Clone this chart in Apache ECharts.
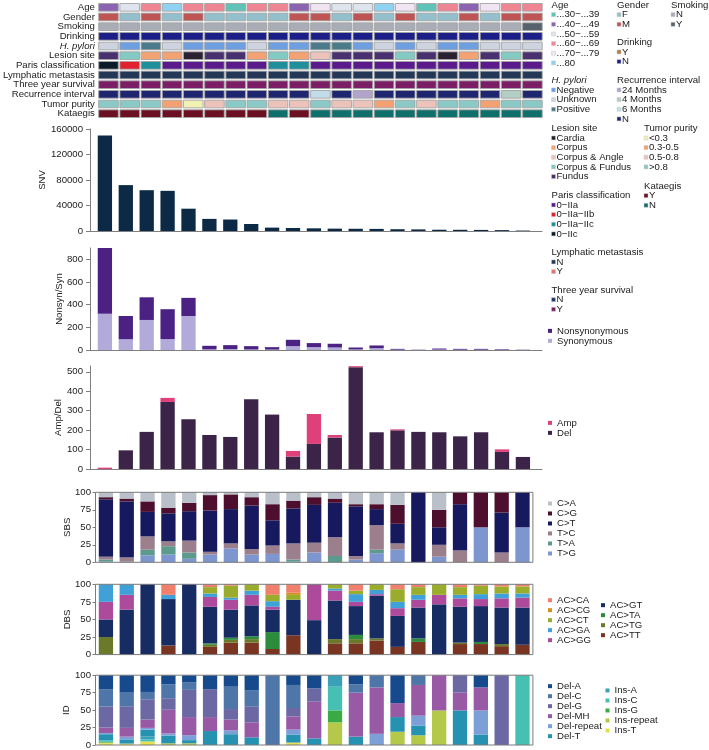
<!DOCTYPE html>
<html><head><meta charset="utf-8">
<script src="https://cdn.jsdelivr.net/npm/echarts@6.0.0/dist/echarts.min.js"></script>
<style>html,body{margin:0;padding:0;background:#fff}#c{width:709px;height:750px}</style>
</head><body><div id="c"></div>
<script>
// ---------------- DATA ----------------
const samples = ['P1','P2','P3','P4','P5','P6','P7','P8','P9','P10','P11','P12','P13','P14','P15','P16','P17','P18','P19','P20','P21'];

// clinical annotation rows
const ageLevels = ['...30\u2212...39','...40\u2212...49','...50\u2212...59','...60\u2212...69','...70\u2212...79','...80'];
const ageColors = ['#5fc4b7','#8b63b1','#dfe5ef','#ef8593','#f1e4f3','#8fd2f1'];
const ageData = ['...40\u2212...49','...50\u2212...59','...60\u2212...69','...80','...60\u2212...69','...60\u2212...69','...30\u2212...39','...60\u2212...69','...60\u2212...69','...40\u2212...49','...70\u2212...79','...50\u2212...59','...50\u2212...59','...80','...70\u2212...79','...30\u2212...39','...60\u2212...69','...40\u2212...49','...70\u2212...79','...60\u2212...69','...60\u2212...69'];

const genderLevels = ['F','M'];
const genderColors = ['#93c0cc','#be5454'];
const genderData = ['M','F','M','F','M','F','F','F','F','M','M','F','M','F','M','F','F','M','F','M','M'];

const smokingLevels = ['N','Y'];
const smokingColors = ['#a9adb5','#57626e'];
const smokingData = ['N','N','N','N','N','N','N','N','N','N','N','N','N','N','N','N','N','N','N','N','Y'];

const drinkingLevels = ['Y','N'];
const drinkingColors = ['#b07d3e','#1c1f87'];
const drinkingData = ['N','N','N','N','N','N','N','N','N','N','N','N','N','N','N','N','N','N','N','N','N'];

const hpLevels = ['Negative','Unknown','Positive'];
const hpColors = ['#6d9fe1','#cdd4df','#4b7b8b'];
const hpData = ['Unknown','Negative','Positive','Unknown','Negative','Negative','Negative','Unknown','Negative','Negative','Positive','Positive','Negative','Unknown','Negative','Unknown','Negative','Negative','Unknown','Unknown','Unknown'];

const lesionLevels = ['Cardia','Corpus','Corpus & Angle','Corpus & Fundus','Fundus'];
const lesionColors = ['#2b2231','#f3a274','#ecc3bb','#82cac2','#49306f'];
const lesionData = ['Fundus','Corpus & Fundus','Corpus','Corpus','Cardia','Fundus','Fundus','Corpus','Corpus & Fundus','Corpus','Corpus & Angle','Fundus','Fundus','Fundus','Corpus & Fundus','Fundus','Cardia','Corpus','Fundus','Corpus & Fundus','Fundus'];

const parisLevels = ['0\u2212IIa','0\u2212IIa\u2212IIb','0\u2212IIa\u2212IIc','0\u2212IIc'];
const parisColors = ['#5b1a8c','#e2202f','#1f8f9c','#0b1c28'];
const parisData = ['0\u2212IIc','0\u2212IIa\u2212IIb','0\u2212IIa\u2212IIc','0\u2212IIa','0\u2212IIa','0\u2212IIa','0\u2212IIa','0\u2212IIa','0\u2212IIa\u2212IIc','0\u2212IIa\u2212IIc','0\u2212IIa','0\u2212IIa','0\u2212IIa','0\u2212IIa','0\u2212IIa','0\u2212IIa','0\u2212IIa','0\u2212IIa','0\u2212IIa','0\u2212IIa','0\u2212IIa'];

const lymphLevels = ['N','Y'];
const lymphColors = ['#233757','#e07474'];
const lymphData = ['N','N','N','N','N','N','N','N','N','N','N','N','N','N','N','N','N','N','N','N','N'];

const survLevels = ['N','Y'];
const survColors = ['#1f3a6a','#7b1e66'];
const survData = ['Y','Y','Y','Y','Y','Y','Y','Y','Y','Y','Y','Y','Y','Y','Y','Y','Y','Y','Y','Y','Y'];

const recLevels = ['24 Months','4 Months','6 Months','N'];
const recColors = ['#b1a3c9','#b2cdc1','#c2dde9','#1e2670'];
const recData = ['N','N','N','N','N','N','N','N','N','N','6 Months','N','24 Months','N','N','N','N','N','N','4 Months','N'];

const purityLevels = ['<0.3','0.3-0.5','0.5-0.8','>0.8'];
const purityColors = ['#f1f1b4','#f3a173','#ecc2ba','#8ac9c6'];
const purityData = ['>0.8','>0.8','>0.8','0.3-0.5','<0.3','0.5-0.8','>0.8','>0.8','0.5-0.8','0.5-0.8','>0.8','0.5-0.8','0.5-0.8','0.3-0.5','>0.8','0.5-0.8','>0.8','>0.8','0.3-0.5','>0.8','>0.8'];

const katLevels = ['Y','N'];
const katColors = ['#6a1022','#0f706b'];
const katData = ['Y','Y','Y','Y','Y','Y','Y','Y','N','Y','N','N','N','N','N','N','N','N','N','N','N'];

// SNV
const snv = [150000,72000,64000,63000,35000,19000,18000,11000,5300,4700,4200,3700,3500,3300,2800,2500,2000,1900,1700,1400,700];
// Nonsynonymous / synonymous
const nonsyn = [580,205,200,264,160,31,35,29,21,56,36,33,17,24,7,2,9,7,7,5,2];
const syn = [320,95,265,96,300,6,8,5,4,34,25,22,5,16,3,1,4,3,3,2,1];
// Amp / Del
const ampCN = [7,0,0,21,0,0,0,0,0,29,154,13,5,0,5,0,0,0,0,13,0];
const delCN = [0,96,191,345,256,175,165,359,280,64,129,162,524,189,199,191,189,168,189,88,62];
// SBS (%)
const sbsCA = [7,9,13,22,15,4,3,7,17,12,7,9,17,17,18,0,25,0,0,0,0];
const sbsCG = [3,4,15,8,12,22,21,12,23,11,11,6,3,7,27,0,25,17,50,29,0];
const sbsCT = [82,80,35,40,42,59,49,62,36,50,54,49,71,23,28,100,25,66,0,57,50];
const sbsTC = [4,6,19,7,17,4,7,8,12,23,14,27,5,35,9,0,17,17,0,14,0];
const sbsTA = [3,1,8,12,9,0,0,0,0,3,0,9,0,5,0,0,0,0,0,0,0];
const sbsTG = [1,0,10,11,5,11,20,11,12,1,14,0,4,13,18,0,8,0,50,0,50];
// DBS (%)
const dbsCA = [0,0,0,15,0,4,2,0,15,12,0,0,9,0,7,4,0,4,2,3,3];
const dbsCG = [0,0,0,0,0,0,0,0,0,3,0,0,0,0,0,0,0,0,0,0,0];
const dbsCT = [0,0,0,0,0,9,17,9,9,7,0,6,5,8,18,11,15,11,12,10,10];
const dbsGA = [25,15,0,6,0,5,3,6,8,0,0,3,11,6,9,7,0,5,7,7,6];
const dbsGG = [25,21,0,0,0,14,14,15,4,0,51,14,6,2,11,11,13.5,12,10,13,14];
const dbsGT = [25,64,100,66,100,52,40,44,32,50.5,49,55,41,61,44,44,71.5,51,51,52,53];
const dbsTA = [0,0,0,0,0,2,3,4,24,0,0,0,6,0,0,5,0,0,3,0,0];
const dbsTG = [25,0,0,0,0,3,4,5,0,0,0,6,6,3,0,0,0,2,0,3,0];
const dbsTT = [0,0,0,13,0,11,17,17,8,27.5,0,16,16,20,11,18,0,15,15,12,14];
// ID (%)
const idDelA = [20,25,24,13,10.5,20,16.5,22,0,14,19,0,13,0,40,0,0,0,17.5,0,0];
const idDelC = [25,19.5,10.5,20,10.5,0,32,22.5,100,33,0,0,12,17.5,0,14,0,0,0,0,0];
const idDelG = [30,31,29,16.5,39,40,15,23,0,12,19,0,0,0,0,0,0,25,0,100,0];
const idDelMH = [8,12.5,12,34,26,20,15.5,21.5,0,19,52.5,0,63,66.5,20,44,50.5,25.5,33,0,0];
const idDelRep = [1.5,4,2.5,3,7,0,5.5,0,0,7,0,0,0,16,0,14,0,0,34.5,0,0];
const idDelT = [9,6,10,11,4.5,20,15.5,11,0,11.5,9.5,0,12,0,21,14,0,49.5,15,0,0];
const idInsA = [0,0,4,0,0,0,0,0,0,0,0,16.5,0,0,0,0,0,0,0,0,0];
const idInsC = [2,0,3,0,0,0,0,0,0,0,0,34,0,0,0,0,0,0,0,0,100];
const idInsG = [1,0,0,0,0,0,0,0,0,0,0,17,0,0,0,0,0,0,0,0,0];
const idInsRep = [1,0,0,2.5,2.5,0,0,0,0,0,0,32.5,0,0,19,14,49.5,0,0,0,0];
const idInsT = [2.5,2,5,0,0,0,0,0,0,3.5,0,0,0,0,0,0,0,0,0,0,0];

// axis tick labels
const snvTicks = [0,40000,80000,120000,160000];
const nsTicks = [0,200,400,600,800];
const cnTicks = [0,100,200,300,400,500];
const pctTicks = [0,25,50,75,100];

// ---------------- STYLE ----------------
const FONT = '"Liberation Sans", Arial, Helvetica, sans-serif';
const TXT = '#1a1a1a';
const AX = '#7f7f7f';
const FS = 9.6;

const heatRows = [
  {name:'Age', levels:ageLevels, colors:ageColors, values:ageData, leg:[551.5,5]},
  {name:'Gender', levels:genderLevels, colors:genderColors, values:genderData, leg:[617,5]},
  {name:'Smoking', levels:smokingLevels, colors:smokingColors, values:smokingData, leg:[671,5]},
  {name:'Drinking', levels:drinkingLevels, colors:drinkingColors, values:drinkingData, leg:[617,42.3]},
  {name:'H. pylori', levels:hpLevels, colors:hpColors, values:hpData, leg:[551.5,80.3]},
  {name:'Lesion site', levels:lesionLevels, colors:lesionColors, values:lesionData, leg:[551.5,128.3]},
  {name:'Paris classification', levels:parisLevels, colors:parisColors, values:parisData, leg:[551.5,195.3]},
  {name:'Lymphatic metastasis', levels:lymphLevels, colors:lymphColors, values:lymphData, leg:[551.5,252.3]},
  {name:'Three year survival', levels:survLevels, colors:survColors, values:survData, leg:[551.5,290]},
  {name:'Recurrence interval', levels:recLevels, colors:recColors, values:recData, leg:[617,80.3]},
  {name:'Tumor purity', levels:purityLevels, colors:purityColors, values:purityData, leg:[644,128.3]},
  {name:'Kataegis', levels:katLevels, colors:katColors, values:katData, leg:[644,186]}
];

const heatData = [];
heatRows.forEach((row, r) => {
  row.values.forEach((v, c) => {
    heatData.push({value:[c, r], itemStyle:{color: row.colors[row.levels.indexOf(v)]}});
  });
});

// graphic legends for the annotation rows
const graphics = [];
const STEP = 9.65;
heatRows.forEach(row => {
  const x = row.leg[0], y = row.leg[1];
  graphics.push({type:'text', x:x, y:y, silent:true, style:{text:row.name, fontSize:FS, fontFamily:FONT,
    fontStyle: row.name === 'H. pylori' ? 'italic' : 'normal', fill:TXT, verticalAlign:'middle'}});
  row.levels.forEach((lv, i) => {
    const cy = y + (i + 1) * STEP;
    graphics.push({type:'rect', silent:true, shape:{x:x, y:cy - 2, width:4, height:4},
      style:{fill:row.colors[i], stroke:'#c8c8c8', lineWidth:0.5}});
    graphics.push({type:'text', x:x + 5, y:cy, silent:true, style:{text:lv, fontSize:FS, fontFamily:FONT, fill:TXT, verticalAlign:'middle'}});
  });
});

// ---------------- LAYOUT ----------------
const grids = [], xAxes = [], yAxes = [], series = [], legends = [];

// grid 0: annotation heatmap
grids.push({left:96, top:2.5, width:447, height:116});
xAxes.push({gridIndex:0, type:'category', data:samples, show:false});
yAxes.push({gridIndex:0, type:'category', inverse:true, data:heatRows.map(r => r.name),
  axisLine:{show:false}, axisTick:{show:false},
  axisLabel:{interval:0, margin:3, fontSize:FS, fontFamily:FONT, color:TXT,
    formatter: v => v === 'H. pylori' ? '{i|H. pylori}' : v,
    rich:{i:{fontStyle:'italic', fontSize:FS, fontFamily:FONT, color:TXT}}}});
series.push({type:'custom', xAxisIndex:0, yAxisIndex:0, data:heatData, encode:{x:0, y:1},
  renderItem: function(params, api){
    const p = api.coord([api.value(0), api.value(1)]);
    const s = api.size([1, 1]);
    const w = s[0] - 1.6, h = s[1] - 2;
    return {type:'rect', shape:{x:p[0] - w/2, y:p[1] - h/2, width:w, height:h},
      style:{fill:api.visual('color'), stroke:'#a3a3a3', lineWidth:0.9}};
  }});

const BARW = 14.3;
// panel with separate axis frame (bars grid + axis grid)
function countPanel(top, height, max, ticks, name, nameGap) {
  const gA = grids.length;
  grids.push({left:94.45, top:top, width:438.9, height:height});
  xAxes.push({gridIndex:gA, type:'category', data:samples, show:false});
  yAxes.push({gridIndex:gA, type:'value', min:0, max:max, show:false});
  const gB = grids.length;
  grids.push({left:90, top:top, width:452, height:height});
  xAxes.push({gridIndex:gB, type:'value', min:0, max:1, axisLine:{show:true, onZero:false, lineStyle:{color:AX, width:1}},
    axisTick:{show:false}, axisLabel:{show:false}, splitLine:{show:false}});
  yAxes.push({gridIndex:gB, type:'value', min:0, max:max, name:name, nameLocation:'middle', nameGap:nameGap,
    nameMoveOverlap:false,
    nameTextStyle:{fontSize:FS, fontFamily:FONT, color:TXT},
    axisLine:{show:true, lineStyle:{color:AX, width:1}},
    axisTick:{show:true, length:4, lineStyle:{color:AX}, customValues:ticks},
    axisLabel:{margin:7, fontSize:FS, fontFamily:FONT, color:TXT, customValues:ticks, formatter: v => String(v)},
    splitLine:{show:false}});
  return gA;
}

const gSNV = countPanel(129, 102, 160000, snvTicks, 'SNV', 43);
series.push({type:'bar', name:'SNV', xAxisIndex:gSNV, yAxisIndex:gSNV, data:snv, barWidth:BARW, itemStyle:{color:'#0c2a46'}});

const gNS = countPanel(248, 102, 900, nsTicks, 'Nonsyn/Syn', 26);
series.push({type:'bar', name:'Synonymous', stack:'ns', xAxisIndex:gNS, yAxisIndex:gNS, data:syn, barWidth:BARW, itemStyle:{color:'#b2aad8'}});
series.push({type:'bar', name:'Nonsynonymous', stack:'ns', xAxisIndex:gNS, yAxisIndex:gNS, data:nonsyn, barWidth:BARW, itemStyle:{color:'#4b2284'}});

const gCN = countPanel(366, 103, 530, cnTicks, 'Amp/Del', 26.5);
series.push({type:'bar', name:'Del', stack:'cn', xAxisIndex:gCN, yAxisIndex:gCN, data:delCN, barWidth:BARW, itemStyle:{color:'#3b2448'}});
series.push({type:'bar', name:'Amp', stack:'cn', xAxisIndex:gCN, yAxisIndex:gCN, data:ampCN, barWidth:BARW, itemStyle:{color:'#e0407a'}});

function pctPanel(top, height, name, nameGap) {
  const g = grids.length;
  grids.push({left:95.5, top:top, width:437.4, height:height, show:true, z:5,
    borderColor:'#7a7a7a', borderWidth:1, backgroundColor:'transparent'});
  xAxes.push({gridIndex:g, type:'category', data:samples, show:false});
  yAxes.push({gridIndex:g, type:'value', min:0, max:100, interval:25, name:name, nameLocation:'middle', nameGap:nameGap,
    nameMoveOverlap:false,
    nameTextStyle:{fontSize:FS, fontFamily:FONT, color:TXT},
    axisLine:{show:false}, axisTick:{show:true, length:3, lineStyle:{color:AX}},
    axisLabel:{margin:4.5, fontSize:FS, fontFamily:FONT, color:TXT, customValues:pctTicks},
    splitLine:{show:false}});
  return g;
}
function stackSeries(g, stackName, list) {
  list.forEach(s => series.push({type:'bar', name:s[0], stack:stackName, xAxisIndex:g, yAxisIndex:g,
    data:s[1], barWidth:BARW, itemStyle:{color:s[2]}}));
}

const gSBS = pctPanel(492.3, 70, 'SBS', 23);
stackSeries(gSBS, 'sbs', [
  ['T>G', sbsTG, '#7e96cf'], ['T>A', sbsTA, '#5d9a8e'], ['T>C', sbsTC, '#9b7f8c'],
  ['C>T', sbsCT, '#17195e'], ['C>G', sbsCG, '#4d0f2d'], ['C>A', sbsCA, '#b9c0ca']]);

const gDBS = pctPanel(584.3, 70.3, 'DBS', 23);
stackSeries(gDBS, 'dbs', [
  ['AC>TT', dbsTT, '#7a3422'], ['AC>TG', dbsTG, '#6a7a2a'], ['AC>TA', dbsTA, '#2a8c3c'],
  ['AC>GT', dbsGT, '#182c64'], ['AC>GG', dbsGG, '#ad4a9c'], ['AC>GA', dbsGA, '#40a0d8'],
  ['AC>CT', dbsCT, '#9aac2c'], ['AC>CG', dbsCG, '#d4901e'], ['AC>CA', dbsCA, '#f0806c']]);

const gID = pctPanel(675.2, 70.5, 'ID', 24);
stackSeries(gID, 'id', [
  ['Ins-T', idInsT, '#e6e04a'], ['Ins-repeat', idInsRep, '#b4c84a'], ['Ins-G', idInsG, '#3aaa45'],
  ['Ins-C', idInsC, '#45c0b2'], ['Ins-A', idInsA, '#3aa0b8'], ['Del-T', idDelT, '#2592b2'],
  ['Del-repeat', idDelRep, '#7c9fd8'], ['Del-MH', idDelMH, '#985aa5'], ['Del-G', idDelG, '#6b68a3'],
  ['Del-C', idDelC, '#4f76a8'], ['Del-A', idDelA, '#174a8c']]);

function mkLegend(names, left, firstY) {
  return {orient:'vertical', left:left, top:firstY - STEP/2, padding:0, itemGap:0, itemWidth:4, itemHeight:4,
    icon:'rect', selectedMode:false, data:names,
    textStyle:{fontSize:FS, fontFamily:FONT, color:TXT, lineHeight:STEP}};
}
legends.push(mkLegend(['Nonsynonymous','Synonymous'], 548, 330.7));
legends.push(mkLegend(['Amp','Del'], 548, 422.7));
legends.push(mkLegend(['C>A','C>G','C>T','T>C','T>A','T>G'], 548, 503.3));
legends.push(mkLegend(['AC>CA','AC>CG','AC>CT','AC>GA','AC>GG'], 548, 600));
legends.push(mkLegend(['AC>GT','AC>TA','AC>TG','AC>TT'], 601, 605));
legends.push(mkLegend(['Del-A','Del-C','Del-G','Del-MH','Del-repeat','Del-T'], 548, 686));
legends.push(mkLegend(['Ins-A','Ins-C','Ins-G','Ins-repeat','Ins-T'], 605.5, 690.3));

const chart = echarts.init(document.getElementById('c'), null, {renderer:'canvas', width:709, height:750});
chart.setOption({
  animation:false,
  backgroundColor:'#fff',
  textStyle:{fontFamily:FONT},
  grid:grids, xAxis:xAxes, yAxis:yAxes, series:series, legend:legends,
  graphic:{elements:graphics}
});
</script></body></html>
